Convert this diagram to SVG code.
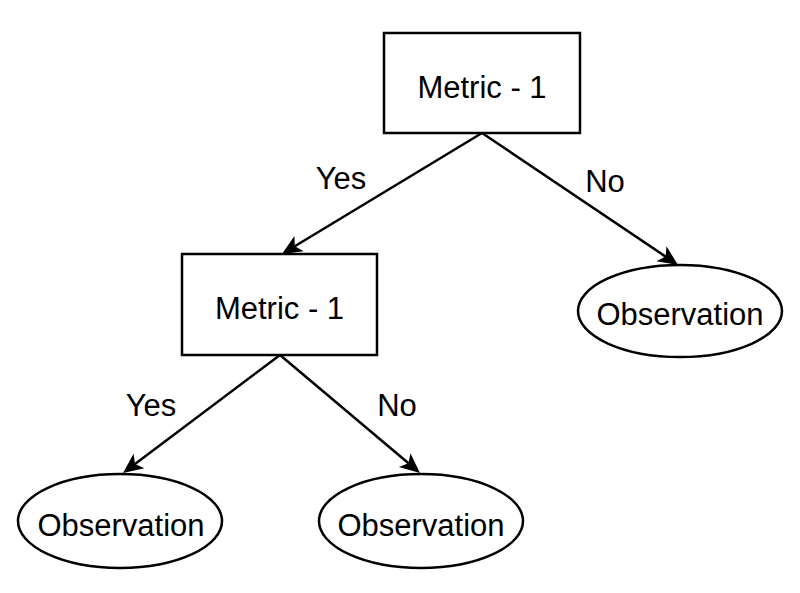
<svg xmlns="http://www.w3.org/2000/svg" width="800" height="593" viewBox="0 0 800 593">
<style>
.shape{fill:#fff;stroke:#000;stroke-width:2.5}
.edge{fill:none;stroke:#000;stroke-width:2.5}
text{font-family:"Liberation Sans",Arial,sans-serif;font-size:31px;fill:#000;text-anchor:middle}
</style>
<defs>
<marker id="arr" markerUnits="userSpaceOnUse" markerWidth="22" markerHeight="22" viewBox="0 -11 22 22" refX="5" refY="0" orient="auto">
<path d="M20,0 L0,-9 L5,0 L0,9 Z" fill="#000"/>
</marker>
</defs>
<rect width="800" height="593" fill="#fff"/>
<g id="connectors">
<line class="edge" x1="482" y1="133" x2="294.8" y2="246.2" marker-end="url(#arr)"/>
<line class="edge" x1="482" y1="133" x2="665.6" y2="256.6" marker-end="url(#arr)"/>
<line class="edge" x1="280" y1="355" x2="135" y2="464" marker-end="url(#arr)"/>
<line class="edge" x1="280" y1="355" x2="408.5" y2="463.3" marker-end="url(#arr)"/>
<text x="341" y="189">Yes</text>
<text x="605" y="192">No</text>
<text x="151" y="416">Yes</text>
<text x="397" y="416">No</text>
</g>
<g id="metric-top">
<rect class="shape" x="384" y="33" width="196" height="100"/>
<text x="482" y="98">Metric - 1</text>
</g>
<g id="metric-second">
<rect class="shape" x="182" y="254" width="195" height="101"/>
<text x="279.5" y="319">Metric - 1</text>
</g>
<g id="observation-right">
<ellipse class="shape" cx="680" cy="311" rx="102" ry="46"/>
<text x="680" y="325">Observation</text>
</g>
<g id="observation-left">
<ellipse class="shape" cx="120" cy="521" rx="102" ry="47"/>
<text x="121" y="536">Observation</text>
</g>
<g id="observation-middle">
<ellipse class="shape" cx="421" cy="521" rx="102" ry="47"/>
<text x="421" y="536">Observation</text>
</g>
</svg>
